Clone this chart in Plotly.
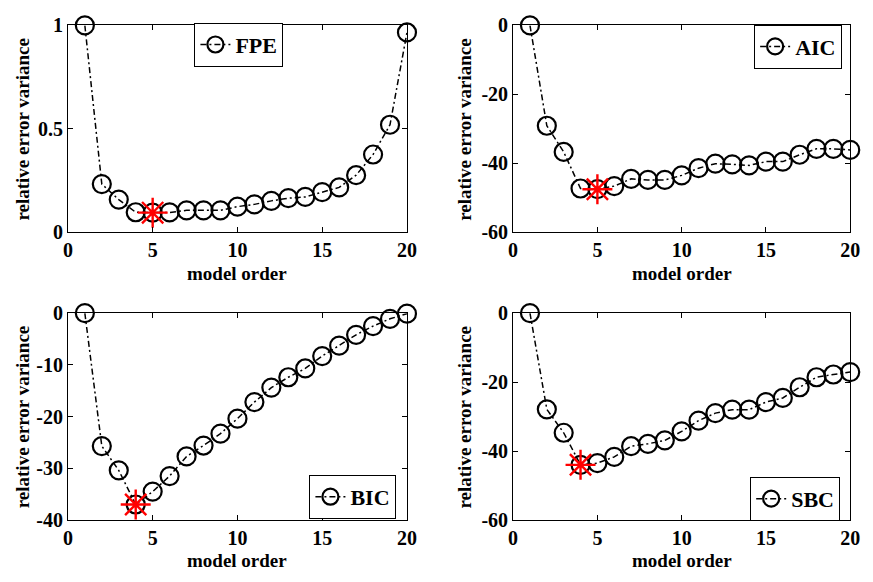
import plotly.graph_objects as go

orders = list(range(1, 21))

fpe = [1.0, 0.233, 0.158, 0.097, 0.095, 0.096, 0.106, 0.106, 0.106, 0.124,
       0.135, 0.152, 0.165, 0.171, 0.194, 0.217, 0.276, 0.376, 0.52, 0.966]
aic = [0.0, -29.1, -36.7, -47.3, -47.5, -46.6, -44.5, -44.8, -44.8, -43.5,
       -41.4, -40.1, -40.3, -40.6, -39.5, -39.5, -37.5, -35.8, -35.8, -36.1]
bic = [0.0, -25.7, -30.4, -37.0, -34.5, -31.5, -27.7, -25.6, -23.3, -20.4,
       -17.2, -14.4, -12.4, -10.7, -8.3, -6.3, -4.2, -2.5, -1.1, -0.1]
sbc = [0.0, -27.9, -34.7, -44.0, -43.5, -41.7, -38.6, -37.9, -36.9, -34.3,
       -31.2, -29.0, -28.0, -28.0, -25.8, -24.6, -21.5, -18.6, -17.8, -17.1]

names = ["FPE", "AIC", "BIC", "SBC"]
series = [fpe, aic, bic, sbc]
y_ranges = [[0, 1], [-60, 0], [-40, 0], [-60, 0]]
y_ticks = [[0, 0.5, 1], [-60, -40, -20, 0], [-40, -30, -20, -10, 0], [-60, -40, -20, 0]]
y_ticktext = [["0", "0.5", "1"], ["-60", "-40", "-20", "0"],
              ["-40", "-30", "-20", "-10", "0"], ["-60", "-40", "-20", "0"]]
x_ticks = [0, 5, 10, 15, 20]
x_label = "<b>model order</b>"
y_label = "<b>relative error variance</b>"

W, H = 873, 582
FONT = "Liberation Serif"

# plot areas in pixels (left, right, top, bottom)
areas = [(64, 409, 15, 230), (517, 860, 15, 230),
         (64, 409, 314, 529), (517, 860, 314, 529)]
# legend box centres in pixels
legend_centres = [(238, 35), (807, 37), (354, 505), (804, 507)]
# axis title centres in pixels
xtitle_y = [273, 273, 571, 571]
ytitle_x = [18, 468, 18, 468]

fig = go.Figure()
layout = dict(
    width=W, height=H, margin=dict(l=0, r=0, t=0, b=0),
    paper_bgcolor="white", plot_bgcolor="white",
    font=dict(family=FONT, size=20, color="black"),
    showlegend=True,
)
annotations = []

for i, (name, ys) in enumerate(zip(names, series)):
    k = "" if i == 0 else str(i + 1)
    leg = "legend" if i == 0 else f"legend{i + 1}"
    fig.add_trace(go.Scatter(
        x=orders, y=ys, mode="lines+markers", name=f"<b>{name}</b>",
        xaxis="x" + k, yaxis="y" + k, legend=leg, cliponaxis=False,
        line=dict(color="black", width=1.5, dash="6px,3px,2px,3px"),
        marker=dict(symbol="circle-open", size=18, color="black",
                    line=dict(color="black", width=2.2)),
    ))
    imin = min(range(len(ys)), key=lambda j: ys[j])
    fig.add_trace(go.Scatter(
        x=[orders[imin]], y=[ys[imin]], mode="markers", showlegend=False,
        xaxis="x" + k, yaxis="y" + k, cliponaxis=False,
        marker=dict(symbol="asterisk-open", size=25, color="red",
                    line=dict(color="red", width=2.4)),
    ))
    l, r, t, b = areas[i]
    axcommon = dict(showline=True, linecolor="black", linewidth=1, mirror="ticks",
                    ticks="inside", ticklen=5, tickcolor="black", showgrid=False,
                    zeroline=False, tickfont=dict(family=FONT, size=20))
    layout["xaxis" + k] = dict(
        domain=[l / W, r / W], anchor="y" + k, range=[0, 20],
        tickvals=x_ticks, ticktext=[f"<b>{v}</b>" for v in x_ticks],
        **axcommon)
    layout["yaxis" + k] = dict(
        domain=[1 - b / H, 1 - t / H], anchor="x" + k, range=y_ranges[i],
        tickvals=y_ticks[i], ticktext=[f"<b>{s}</b>" for s in y_ticktext[i]],
        **axcommon)
    annotations.append(dict(
        text=x_label, xref="paper", yref="paper", x=(l + r) / 2 / W,
        y=1 - xtitle_y[i] / H, xanchor="center", yanchor="middle",
        showarrow=False, font=dict(family=FONT, size=19)))
    annotations.append(dict(
        text=y_label, xref="paper", yref="paper", x=ytitle_x[i] / W,
        y=1 - (t + b) / 2 / H, xanchor="center", yanchor="middle",
        textangle=-90, showarrow=False, font=dict(family=FONT, size=19)))
    cx, cy = legend_centres[i]
    layout[leg] = dict(
        x=cx / W, y=1 - cy / H, xanchor="center", yanchor="middle",
        bgcolor="white", bordercolor="black", borderwidth=1,
        font=dict(family=FONT, size=22), itemwidth=30,
        tracegroupgap=0,
    )

layout["annotations"] = annotations
fig.update_layout(**layout)
fig.write_html("out.html")
